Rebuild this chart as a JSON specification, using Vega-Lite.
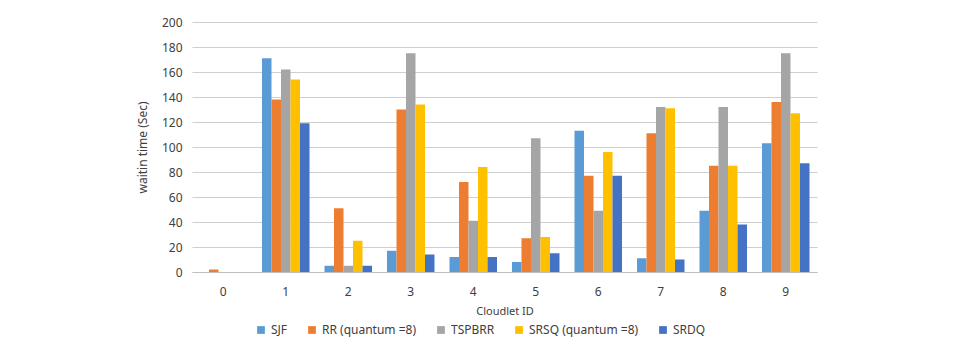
{
  "$schema": "https://vega.github.io/schema/vega-lite/v6.json",
  "autosize": "none",
  "width": 625,
  "height": 250,
  "padding": {"left": 192, "top": 22, "right": 146, "bottom": 74},
  "background": "white",
  "config": {
    "view": {"stroke": null},
    "font": "Noto Sans",
    "axis": {"labelFont": "Noto Sans", "titleFont": "Noto Sans", "labelColor": "#404040", "titleColor": "#404040", "titleFontWeight": "normal"},
    "legend": {"labelFont": "Noto Sans", "labelColor": "#404040"}
  },
  "data": {
    "values": [
      {"id": "0", "s": "SJF", "v": 0}, {"id": "0", "s": "RR (quantum =8)", "v": 2}, {"id": "0", "s": "TSPBRR", "v": 0}, {"id": "0", "s": "SRSQ (quantum =8)", "v": 0}, {"id": "0", "s": "SRDQ", "v": 0},
      {"id": "1", "s": "SJF", "v": 171}, {"id": "1", "s": "RR (quantum =8)", "v": 138}, {"id": "1", "s": "TSPBRR", "v": 162}, {"id": "1", "s": "SRSQ (quantum =8)", "v": 154}, {"id": "1", "s": "SRDQ", "v": 119},
      {"id": "2", "s": "SJF", "v": 5}, {"id": "2", "s": "RR (quantum =8)", "v": 51}, {"id": "2", "s": "TSPBRR", "v": 5}, {"id": "2", "s": "SRSQ (quantum =8)", "v": 25}, {"id": "2", "s": "SRDQ", "v": 5},
      {"id": "3", "s": "SJF", "v": 17}, {"id": "3", "s": "RR (quantum =8)", "v": 130}, {"id": "3", "s": "TSPBRR", "v": 175}, {"id": "3", "s": "SRSQ (quantum =8)", "v": 134}, {"id": "3", "s": "SRDQ", "v": 14},
      {"id": "4", "s": "SJF", "v": 12}, {"id": "4", "s": "RR (quantum =8)", "v": 72}, {"id": "4", "s": "TSPBRR", "v": 41}, {"id": "4", "s": "SRSQ (quantum =8)", "v": 84}, {"id": "4", "s": "SRDQ", "v": 12},
      {"id": "5", "s": "SJF", "v": 8}, {"id": "5", "s": "RR (quantum =8)", "v": 27}, {"id": "5", "s": "TSPBRR", "v": 107}, {"id": "5", "s": "SRSQ (quantum =8)", "v": 28}, {"id": "5", "s": "SRDQ", "v": 15},
      {"id": "6", "s": "SJF", "v": 113}, {"id": "6", "s": "RR (quantum =8)", "v": 77}, {"id": "6", "s": "TSPBRR", "v": 49}, {"id": "6", "s": "SRSQ (quantum =8)", "v": 96}, {"id": "6", "s": "SRDQ", "v": 77},
      {"id": "7", "s": "SJF", "v": 11}, {"id": "7", "s": "RR (quantum =8)", "v": 111}, {"id": "7", "s": "TSPBRR", "v": 132}, {"id": "7", "s": "SRSQ (quantum =8)", "v": 131}, {"id": "7", "s": "SRDQ", "v": 10},
      {"id": "8", "s": "SJF", "v": 49}, {"id": "8", "s": "RR (quantum =8)", "v": 85}, {"id": "8", "s": "TSPBRR", "v": 132}, {"id": "8", "s": "SRSQ (quantum =8)", "v": 85}, {"id": "8", "s": "SRDQ", "v": 38},
      {"id": "9", "s": "SJF", "v": 103}, {"id": "9", "s": "RR (quantum =8)", "v": 136}, {"id": "9", "s": "TSPBRR", "v": 175}, {"id": "9", "s": "SRSQ (quantum =8)", "v": 127}, {"id": "9", "s": "SRDQ", "v": 87}
    ]
  },
  "mark": {"type": "bar"},
  "encoding": {
    "x": {
      "field": "id", "type": "nominal", "title": "Cloudlet ID",
      "scale": {"paddingInner": 0.24, "paddingOuter": 0.12},
      "axis": {"labelAngle": 0, "labelFontSize": 12, "titleFontSize": 11, "ticks": false, "domainColor": "#bfbfbf", "labelPadding": 14, "titlePadding": 8}
    },
    "xOffset": {"field": "s", "sort": ["SJF", "RR (quantum =8)", "TSPBRR", "SRSQ (quantum =8)", "SRDQ"]},
    "y": {
      "field": "v", "type": "quantitative", "title": "waitin time (Sec)",
      "scale": {"domain": [0, 200]},
      "axis": {"values": [0, 20, 40, 60, 80, 100, 120, 140, 160, 180, 200], "labelFontSize": 12, "titleFontSize": 12, "ticks": false, "domain": false, "gridColor": "#cfcfcf", "labelPadding": 10, "titlePadding": 12}
    },
    "color": {
      "field": "s", "type": "nominal", "title": null,
      "sort": ["SJF", "RR (quantum =8)", "TSPBRR", "SRSQ (quantum =8)", "SRDQ"],
      "scale": {"domain": ["SJF", "RR (quantum =8)", "TSPBRR", "SRSQ (quantum =8)", "SRDQ"], "range": ["#5B9BD5", "#ED7D31", "#A5A5A5", "#FFC000", "#4472C4"]},
      "legend": {"orient": "none", "direction": "horizontal", "legendX": 63, "legendY": 302, "symbolType": "square", "symbolSize": 60, "labelFontSize": 12, "columnPadding": 18, "symbolStrokeWidth": 0}
    }
  }
}
